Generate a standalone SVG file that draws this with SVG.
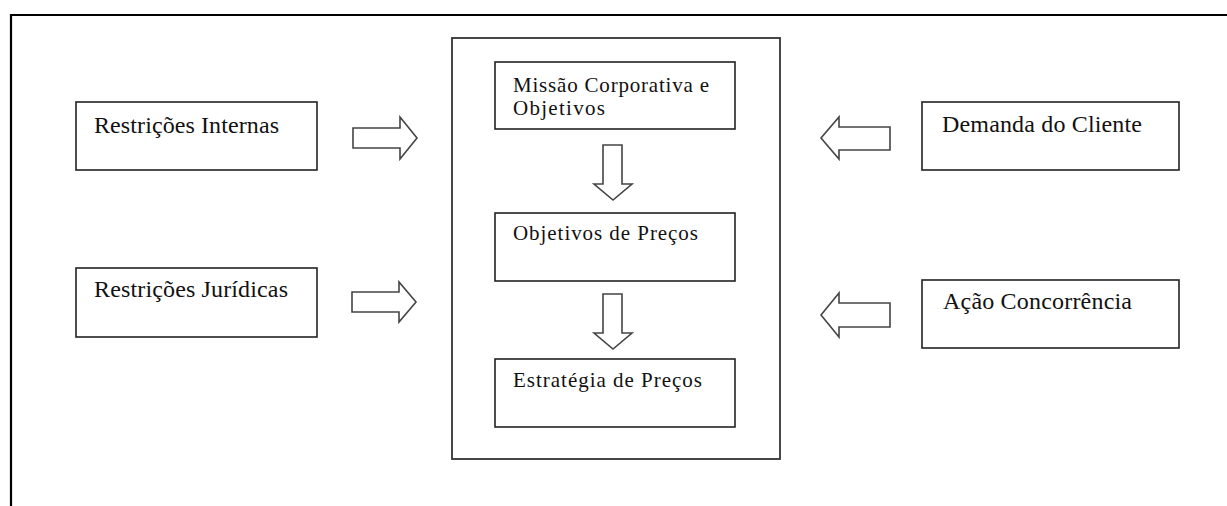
<svg xmlns="http://www.w3.org/2000/svg" width="1227" height="506" viewBox="0 0 1227 506">
<style>
.box{fill:#fff;stroke:#222;stroke-width:1.6}
.big{fill:#fff;stroke:#333;stroke-width:1.8}
.arr{fill:#fff;stroke:#444;stroke-width:1.6;stroke-linejoin:miter}
.t{font-family:"Liberation Serif","Times New Roman",serif;font-size:24px;fill:#111}
.c{font-family:"Liberation Serif","Times New Roman",serif;font-size:21px;fill:#111}
</style>
<rect width="1227" height="506" fill="#fff"/>
<path d="M11 506 V15 H1227" fill="none" stroke="#000" stroke-width="2.2"/>
<g id="restricoes-internas"><rect class="box" x="76" y="102" width="241" height="68"/><text class="t" x="94" y="133" textLength="185">Restrições Internas</text></g>
<g id="restricoes-juridicas"><rect class="box" x="76" y="268" width="241" height="69"/><text class="t" x="94" y="297" textLength="194">Restrições Jurídicas</text></g>
<g id="demanda-cliente"><rect class="box" x="922" y="102" width="257" height="68"/><text class="t" x="942" y="132" textLength="200">Demanda do Cliente</text></g>
<g id="acao-concorrencia"><rect class="box" x="922" y="280" width="257" height="68"/><text class="t" x="943" y="309" textLength="189">Ação Concorrência</text></g>
<g id="centro"><rect class="big" x="452" y="38" width="328" height="421"/></g>
<g id="missao"><rect class="box" x="495" y="62" width="240" height="67"/><text class="c" x="513" y="92" textLength="196">Missão Corporativa e</text><text class="c" x="513" y="115" textLength="92">Objetivos</text></g>
<g id="objetivos-precos"><rect class="box" x="495" y="213" width="240" height="68"/><text class="c" x="513" y="240" textLength="185">Objetivos de Preços</text></g>
<g id="estrategia-precos"><rect class="box" x="495" y="359" width="240" height="68"/><text class="c" x="513" y="387" textLength="189">Estratégia de Preços</text></g>
<g id="connectors">
<path class="arr" d="M353 128 H400 V117 L417 138 L400 159 V148 H353 Z"/>
<path class="arr" d="M352 292 H399 V282 L416 302 L399 322 V312 H352 Z"/>
<path class="arr" d="M890 127 H839 V117 L821 138 L839 159 V150 H890 Z"/>
<path class="arr" d="M890 303 H839 V293 L821 315 L839 337 V327 H890 Z"/>
<path class="arr" d="M603 145 H622 V184 H632 L613 200 L594 184 H603 Z"/>
<path class="arr" d="M603 294 H622 V333 H632 L613 349 L594 333 H603 Z"/>
</g>
</svg>
